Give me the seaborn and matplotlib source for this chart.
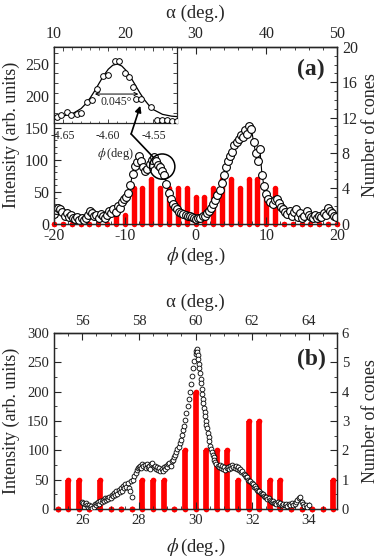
import matplotlib
matplotlib.use("Agg")
import matplotlib.pyplot as plt
import numpy as np
import seaborn as sns
from matplotlib.ticker import MultipleLocator, FormatStrFormatter, NullFormatter

# Panel (a): scan of intensity vs phi, and cone histogram
phi_a = [-20.0, -19.7, -19.4, -19.1, -18.8, -18.5, -18.2, -17.9, -17.6, -17.3,
         -17.0, -16.7, -16.4, -16.1, -15.8, -15.5, -15.2, -14.9, -14.6, -14.3,
         -14.0, -13.7, -13.4, -13.1, -12.8, -12.5, -12.2, -11.9, -11.6, -11.3,
         -11.0, -10.7, -10.4, -10.1, -9.8, -9.5, -9.2, -8.9, -8.6, -8.3,
         -8.0, -7.7, -7.4, -7.1, -6.8, -6.5, -6.2, -5.9, -5.6, -5.3,
         -5.0, -4.7, -4.4, -4.1, -3.8, -3.5, -3.2, -2.9, -2.6, -2.3,
         -2.0, -1.7, -1.4, -1.1, -0.8, -0.5, -0.2, 0.1, 0.4, 0.7,
         1.0, 1.3, 1.6, 1.9, 2.2, 2.5, 2.8, 3.1, 3.4, 3.7,
         4.0, 4.3, 4.6, 4.9, 5.2, 5.5, 5.8, 6.1, 6.4, 6.7,
         7.0, 7.3, 7.6, 7.9, 8.2, 8.5, 8.8, 9.1, 9.4, 9.7,
         10.0, 10.3, 10.6, 10.9, 11.2, 11.5, 11.8, 12.1, 12.4, 12.7,
         13.0, 13.3, 13.6, 13.9, 14.2, 14.5, 14.8, 15.1, 15.4, 15.7,
         16.0, 16.3, 16.6, 16.9, 17.2, 17.5, 17.8, 18.1, 18.4, 18.7,
         19.0, 19.3, 19.6, 19.9]
int_a = [15, 21, 24, 22, 18, 12, 16, 10, 13, 8,
         7, 10, 6, 8, 5, 9, 14, 20, 17, 11,
         13, 9, 15, 11, 8, 14, 19, 16, 22, 18,
         27, 25, 33, 38, 42, 48, 60, 78, 90, 96,
         106, 98, 88, 82, 86, 93, 100, 104, 97, 92,
         88, 82, 76, 62, 48, 38, 30, 26, 22, 18,
         16, 15, 13, 12, 11, 10, 8, 7, 9, 8,
         12, 11, 16, 20, 24, 30, 36, 44, 52, 64,
         76, 88, 98, 106, 112, 122, 128, 132, 138, 136,
         146, 140, 152, 148, 128, 110, 98, 116, 76, 58,
         46, 38, 34, 30, 36, 38, 32, 26, 22, 18,
         15, 20, 12, 18, 22, 10, 16, 8, 12, 20,
         14, 10, 9, 14, 8, 12, 10, 16, 13, 24,
         20, 16, 12, 10]

cone_phi_a = [-20.0, -18.75, -17.5, -16.25, -15.0, -13.75, -12.5, -11.25, -10.0,
              -8.75, -7.5, -6.25, -5.0, -3.75, -2.5, -1.25, 0.0, 1.25, 2.5,
              3.75, 5.0, 6.25, 7.5, 8.75, 10.0, 11.25, 12.5, 13.75, 15.0,
              16.25, 17.5, 18.75, 20.0]
cones_a = [0, 0, 0, 0, 0, 0, 0, 1, 1,
           4, 4, 5, 4, 4, 4, 4, 3, 3, 4,
           5, 5, 4, 5, 5, 3, 4, 0, 0, 0,
           0, 0, 0, 0]

# Inset of panel (a): fine scan around phi = -4.6 deg
phi_in = [-4.657, -4.652, -4.646, -4.641, -4.635, -4.630, -4.623, -4.618, -4.612,
          -4.606, -4.600, -4.593, -4.588, -4.581, -4.577, -4.573, -4.569, -4.564,
          -4.553, -4.546, -4.541, -4.535, -4.530, -4.524]
int_in = [6, 8, 11, 8, 9, 10, 21, 23, 34,
          47, 48, 62, 62, 50, 46, 36, 24, 24,
          16, 3, 3, 3, 2, 2]
phi_fit = [-4.66, -4.65, -4.64, -4.63, -4.625, -4.62, -4.615, -4.61, -4.605, -4.60,
           -4.595, -4.59, -4.585, -4.58, -4.575, -4.57, -4.565, -4.56, -4.555,
           -4.55, -4.54, -4.53, -4.524]
int_fit = [6.5, 7.1, 9.1, 14.5, 19.2, 25.1, 32.2, 40.0, 47.5, 53.8,
           57.8, 59.0, 57.0, 52.3, 45.5, 37.8, 30.1, 23.3, 17.7,
           13.4, 8.7, 6.9, 6.5]
fwhm_left, fwhm_right, fwhm_level = -4.6148, -4.5667, 29
fwhm_text = "0.045°"

# Panel (b)
phi_b = [26.00, 26.04, 26.08, 26.12, 26.16, 26.20, 26.24, 26.28, 26.32, 26.36,
         26.40, 26.44, 26.48, 26.52, 26.56, 26.60, 26.64, 26.68, 26.72, 26.76,
         26.80, 26.84, 26.88, 26.92, 26.96, 27.00, 27.04, 27.08, 27.12, 27.16,
         27.20, 27.24, 27.28, 27.32, 27.36, 27.40, 27.44, 27.48, 27.52, 27.56,
         27.60, 27.64, 27.68, 27.72, 27.76, 27.80, 27.84, 27.88, 27.92, 27.96,
         28.00, 28.04, 28.08, 28.12, 28.16, 28.20, 28.24, 28.28, 28.32, 28.36,
         28.40, 28.44, 28.48, 28.52, 28.56, 28.60, 28.64, 28.68, 28.72, 28.76,
         28.80, 28.84, 28.88, 28.92, 28.96, 29.00, 29.04, 29.08, 29.12, 29.16,
         29.20, 29.24, 29.28, 29.32, 29.36, 29.40, 29.44, 29.48, 29.52, 29.56,
         29.60, 29.64, 29.68, 29.72, 29.76, 29.80, 29.84, 29.88, 29.92, 29.96,
         30.00, 30.02, 30.04, 30.06, 30.08, 30.10, 30.12, 30.14, 30.16, 30.18,
         30.20, 30.22, 30.24, 30.26, 30.28, 30.30, 30.32, 30.34, 30.36, 30.38,
         30.40, 30.43, 30.46, 30.49, 30.52, 30.55, 30.58, 30.61, 30.64, 30.67,
         30.70, 30.74, 30.78, 30.82, 30.86, 30.90, 30.94, 30.98, 31.02, 31.06,
         31.10, 31.14, 31.18, 31.22, 31.26, 31.30, 31.34, 31.38, 31.42, 31.46,
         31.50, 31.54, 31.58, 31.62, 31.66, 31.70, 31.74, 31.78, 31.82, 31.86,
         31.90, 31.94, 31.98, 32.02, 32.06, 32.10, 32.14, 32.18, 32.22, 32.26,
         32.30, 32.34, 32.38, 32.42, 32.46, 32.50, 32.54, 32.58, 32.62, 32.66,
         32.70, 32.74, 32.78, 32.82, 32.86, 32.90, 32.95, 33.00, 33.05, 33.10,
         33.15, 33.20, 33.25, 33.30, 33.35, 33.40, 33.45, 33.50, 33.55, 33.60,
         33.65, 33.70, 33.75, 33.80, 33.85, 33.90, 33.95, 34.00]
int_b = [12, 10, 8, 11, 6, 4, 7, 3, 5, 2,
         4, 8, 6, 10, 12, 9, 14, 12, 16, 13,
         18, 15, 19, 17, 21, 19, 24, 22, 27, 24,
         30, 26, 33, 29, 36, 31, 40, 35, 42, 38,
         45, 36, 30, 48, 21, 50, 57, 62, 66, 70,
         72, 74, 70, 76, 73, 75, 70, 77, 72, 74,
         68, 76, 78, 71, 73, 68, 72, 66, 70, 64,
         69, 65, 72, 68, 74, 71, 76, 79, 74, 82,
         84, 88, 92, 97, 102, 106, 112, 118, 126, 134,
         142, 152, 163, 175, 188, 200, 213, 226, 240, 252,
         265, 270, 272, 268, 262, 255, 248, 240, 232, 222,
         214, 205, 196, 188, 180, 172, 165, 158, 150, 144,
         138, 130, 122, 116, 108, 102, 97, 92, 88, 84,
         80, 77, 74, 72, 75, 70, 73, 68, 71, 66,
         70, 72, 68, 74, 70, 75, 72, 70, 74, 68,
         71, 66, 68, 63, 65, 60, 58, 54, 55, 50,
         47, 48, 44, 42, 38, 40, 35, 33, 30, 31,
         27, 25, 26, 22, 20, 21, 17, 18, 15, 14,
         12, 13, 10, 11, 9, 12, 8, 10, 7, 9,
         6, 8, 5, 9, 7, 10, 6, 8, 12, 15,
         18, 20, 12, 8, 5, 7, 4, 6]

cone_phi_b = [25.125, 25.5, 25.875, 26.25, 26.625, 27.0, 27.375, 27.75, 28.125,
              28.5, 28.875, 29.25, 29.625, 30.0, 30.375, 30.75, 31.125, 31.5,
              31.875, 32.25, 32.625, 33.0, 33.375, 33.75, 34.125, 34.5, 34.875]
cones_b = [0, 1, 1, 0, 1, 0, 0, 0, 1,
           1, 1, 0, 2, 4, 2, 2, 2, 1,
           3, 3, 1, 1, 0, 0, 0, 0, 1]

sns.set_style("ticks")
plt.rcParams["font.family"] = ["Liberation Serif", "DejaVu Serif"]
plt.rcParams["mathtext.fontset"] = "stix"
plt.rcParams["axes.unicode_minus"] = False
plt.rcParams["xtick.direction"] = "in"
plt.rcParams["ytick.direction"] = "in"
plt.rcParams["axes.linewidth"] = 0.9

W, H = 382, 560
fig = plt.figure(figsize=(W / 100, H / 100), dpi=100)


def to_alpha(p):
    return p + 30


def to_phi(a):
    return a - 30


def cone_bars(axc, xs, hs, lw):
    axc.vlines(xs, 0, hs, colors="red", lw=lw, zorder=2)
    axc.scatter(xs, hs, s=lw ** 2, color="red", linewidths=0, zorder=3, clip_on=False)
    axc.scatter(xs, np.zeros(len(xs)), s=lw ** 2, color="red", linewidths=0,
                zorder=3, clip_on=False)


def style_axes(ax, axc, sec, tick_fs, x_major, x_minor, y_major, y_minor,
               c_major, c_minor, a_major, a_minor):
    ax.xaxis.set_major_locator(MultipleLocator(x_major))
    ax.xaxis.set_minor_locator(MultipleLocator(x_minor))
    ax.yaxis.set_major_locator(MultipleLocator(y_major))
    ax.yaxis.set_minor_locator(MultipleLocator(y_minor))
    ax.tick_params(which="both", direction="in", top=False, right=False, labelsize=tick_fs)
    ax.tick_params(which="major", length=5, width=0.8)
    ax.tick_params(which="minor", length=2.5, width=0.6)
    axc.yaxis.set_major_locator(MultipleLocator(c_major))
    axc.yaxis.set_minor_locator(MultipleLocator(c_minor))
    axc.tick_params(which="both", direction="in", labelsize=tick_fs)
    axc.tick_params(which="major", length=5, width=0.8)
    axc.tick_params(which="minor", length=2.5, width=0.6)
    sec.xaxis.set_major_locator(MultipleLocator(a_major))
    sec.xaxis.set_minor_locator(MultipleLocator(a_minor))
    sec.tick_params(which="both", direction="in", labelsize=tick_fs)
    sec.tick_params(which="major", length=5, width=0.8)
    sec.tick_params(which="minor", length=2.5, width=0.6)


# ---------------- panel (a) ----------------
ax_a = fig.add_axes([54 / W, 1 - 223.5 / H, 283 / W, 176.5 / H])
ax_a2 = ax_a.twinx()
ax_a.set_zorder(ax_a2.get_zorder() + 1)
ax_a.patch.set_visible(False)

cone_bars(ax_a2, cone_phi_a, cones_a, 3.9)
sns.lineplot(x=phi_a, y=int_a, ax=ax_a, color="black", lw=0.8, marker="o",
             markersize=5.6, markerfacecolor="white", markeredgecolor="black",
             markeredgewidth=0.8, sort=False, estimator=None)

ax_a.set_xlim(-20, 20)
ax_a.set_ylim(0, 276)
ax_a2.set_ylim(0, 20)
sec_a = ax_a.secondary_xaxis("top", functions=(to_alpha, to_phi))
style_axes(ax_a, ax_a2, sec_a, 11.5, 10, 2, 50, 10, 4, 1, 10, 2)

ax_a.set_xlabel(r"$\phi\,$(deg.)", fontsize=13.5, labelpad=1)
ax_a.set_ylabel("Intensity (arb. units)", fontsize=13)
ax_a.yaxis.set_label_coords(-0.12, 0.5)
ax_a2.set_ylabel("Number of cones", fontsize=13)
ax_a2.yaxis.set_label_coords(1.09, 0.5)
sec_a.set_xlabel("α (deg.)", fontsize=13.5, labelpad=6)
ax_a.text(0.908, 0.87, "(a)", transform=ax_a.transAxes, ha="center", va="center",
          fontsize=17, fontweight="bold")

# marked region and arrow towards the inset
ax_a.scatter([-4.7], [89], s=330, facecolors="none", edgecolors="black",
             linewidths=1.1, zorder=10)
ax_a.plot([-6.0, -9.1], [104, 140], color="black", lw=1.2, zorder=10)
ax_a.annotate("", xy=(-7.8, 184), xytext=(-9.1, 140),
              arrowprops=dict(arrowstyle="-|>", lw=1.2, color="black",
                              mutation_scale=9, shrinkA=0, shrinkB=0),
              zorder=10)

# inset
ax_in = ax_a.inset_axes([0, 0.569, 0.4346, 0.431])
ax_in.set_facecolor("white")
sns.lineplot(x=phi_fit, y=int_fit, ax=ax_in, color="black", lw=0.9, sort=False,
             estimator=None)
sns.scatterplot(x=phi_in, y=int_in, ax=ax_in, s=17, facecolor="white",
                edgecolor="black", linewidth=0.7, zorder=3)
ax_in.set_xlim(-4.66, -4.524)
ax_in.set_ylim(0, 76)
ax_in.xaxis.set_major_locator(MultipleLocator(0.05))
ax_in.xaxis.set_minor_locator(MultipleLocator(0.01))
ax_in.xaxis.set_major_formatter(FormatStrFormatter("%.2f"))
ax_in.yaxis.set_major_locator(MultipleLocator(10))
ax_in.yaxis.set_major_formatter(NullFormatter())
ax_in.tick_params(which="both", direction="in", top=True, right=True, labelsize=8.5,
                  pad=5)
ax_in.tick_params(which="major", length=3, width=0.6)
ax_in.tick_params(which="minor", length=1.8, width=0.5)
ax_in.set_xlabel(r"$\phi\,$(deg)", fontsize=9, labelpad=3)
ax_in.set_ylabel("")
ax_in.annotate("", xy=(fwhm_right, fwhm_level), xytext=(fwhm_left, fwhm_level),
               arrowprops=dict(arrowstyle="<->", lw=0.7, color="black",
                               mutation_scale=6, shrinkA=0, shrinkB=0))
ax_in.text((fwhm_left + fwhm_right) / 2, 21, fwhm_text, fontsize=8.5,
           ha="center", va="center")

# ---------------- panel (b) ----------------
ax_b = fig.add_axes([54 / W, 1 - 509 / H, 283 / W, 176 / H])
ax_b2 = ax_b.twinx()
ax_b.set_zorder(ax_b2.get_zorder() + 1)
ax_b.patch.set_visible(False)

cone_bars(ax_b2, cone_phi_b, cones_b, 4.1)
sns.scatterplot(x=phi_b, y=int_b, ax=ax_b, s=12, facecolor="white",
                edgecolor="black", linewidth=0.6, zorder=3)

ax_b.set_xlim(25, 35)
ax_b.set_ylim(0, 300)
ax_b2.set_ylim(0, 6)
sec_b = ax_b.secondary_xaxis("top", functions=(to_alpha, to_phi))
style_axes(ax_b, ax_b2, sec_b, 10.5, 2, 0.5, 50, 25, 1, 0.5, 2, 0.5)

ax_b.set_xlabel(r"$\phi\,$(deg.)", fontsize=13.5, labelpad=7)
ax_b.set_ylabel("Intensity (arb. units)", fontsize=13)
ax_b.yaxis.set_label_coords(-0.12, 0.5)
ax_b2.set_ylabel("Number of cones", fontsize=13)
ax_b2.yaxis.set_label_coords(1.09, 0.5)
sec_b.set_xlabel("α (deg.)", fontsize=13.5, labelpad=6)
ax_b.text(0.908, 0.847, "(b)", transform=ax_b.transAxes, ha="center", va="center",
          fontsize=17, fontweight="bold")

fig.savefig("out.png", dpi=100)
